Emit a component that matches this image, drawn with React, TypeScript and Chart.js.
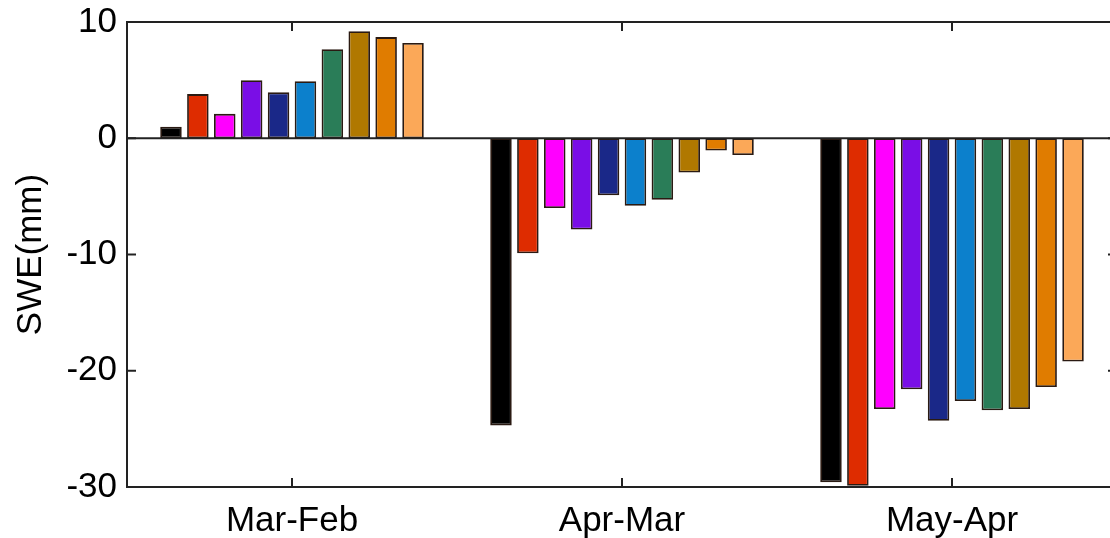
import React, { useEffect, useRef } from "react";
import { Chart, registerables } from "chart.js";

Chart.register(...registerables);

const categories = ["Mar-Feb", "Apr-Mar", "May-Apr"];
const yTicks = [10, 0, -10, -20, -30];

const series1 = [1.0, -24.7, -29.6];
const series2 = [3.8, -9.9, -29.9];
const series3 = [2.1, -6.0, -23.3];
const series4 = [5.0, -7.85, -21.6];
const series5 = [3.95, -4.9, -24.3];
const series6 = [4.9, -5.8, -22.6];
const series7 = [7.65, -5.3, -23.4];
const series8 = [9.2, -2.95, -23.3];
const series9 = [8.7, -1.05, -21.4];
const series10 = [8.2, -1.45, -19.2];

const seriesList = [series1, series2, series3, series4, series5, series6, series7, series8, series9, series10];
const seriesColors = [
  "#000000",
  "#de2c00",
  "#ff00ff",
  "#7a0ee6",
  "#1a2888",
  "#0c80cc",
  "#2a7d58",
  "#b07800",
  "#e07c00",
  "#fba858",
];

const FONT = "'Liberation Sans', Arial, sans-serif";

const boxPlugin = {
  id: "matlabBox",
  afterDraw(chart: any) {
    const { ctx, chartArea, scales } = chart;
    const { left, top, right, bottom } = chartArea;
    const x = scales.x;
    const y = scales.y;
    ctx.save();
    ctx.strokeStyle = "#222";
    ctx.lineWidth = 2;
    const line = (x1: number, y1: number, x2: number, y2: number) => {
      ctx.beginPath();
      ctx.moveTo(x1, y1);
      ctx.lineTo(x2, y2);
      ctx.stroke();
    };
    ctx.strokeRect(left, top, right - left, bottom - top);
    const y0 = y.getPixelForValue(0);
    line(left, y0, right, y0);
    y.ticks.forEach((t: any) => {
      const py = y.getPixelForValue(t.value);
      line(left, py, left + 9, py);
      line(right, py, right - 9, py);
    });
    x.ticks.forEach((_t: any, i: number) => {
      const px = x.getPixelForTick(i);
      line(px, bottom, px, bottom - 9);
      line(px, top, px, top + 9);
    });
    ctx.restore();
  },
};

export default function App() {
  const ref = useRef<HTMLCanvasElement | null>(null);
  useEffect(() => {
    document.body.style.overflow = "hidden";
    if (!ref.current) return;
    const chart = new Chart(ref.current, {
      type: "bar",
      data: {
        labels: categories,
        datasets: seriesList.map((vals, i) => ({
          label: "Series " + (i + 1),
          data: vals,
          backgroundColor: seriesColors[i],
          borderColor: "#2a1a12",
          borderWidth: 1.8,
          borderSkipped: false,
          categoryPercentage: 0.815,
          barPercentage: 0.8,
        })),
      },
      options: {
        animation: false,
        responsive: false,
        devicePixelRatio: 1,
        layout: { padding: { left: 0, top: 22, right: 3, bottom: 0 } },
        plugins: { legend: { display: false }, tooltip: { enabled: false } },
        scales: {
          x: {
            grid: { display: false, drawTicks: false },
            border: { display: false },
            ticks: { color: "#000", font: { family: FONT, size: 35 }, padding: 13 },
            afterFit: (s: any) => {
              s.height = 51;
              s.paddingLeft = 0;
              s.paddingRight = 0;
            },
          },
          y: {
            min: -30,
            max: 10,
            grid: { display: false, drawTicks: false },
            border: { display: false },
            ticks: {
              color: "#000",
              font: { family: FONT, size: 35 },
              padding: 10,
              stepSize: 10,
              callback: (v: any) => (yTicks.includes(Number(v)) ? String(v) : ""),
            },
            title: {
              display: true,
              text: "SWE(mm)",
              color: "#000",
              font: { family: FONT, size: 35 },
              padding: { top: 10, bottom: 0 },
            },
            afterFit: (s: any) => {
              s.width = 127;
              s.paddingTop = 0;
              s.paddingBottom = 0;
            },
          },
        },
      },
      plugins: [boxPlugin],
    });
    return () => chart.destroy();
  }, []);
  return (
    <div style={{ position: "fixed", left: 0, top: 0, width: 1120, height: 538, background: "#fff" }}>
      <canvas ref={ref} width={1120} height={538} style={{ display: "block" }} />
    </div>
  );
}
